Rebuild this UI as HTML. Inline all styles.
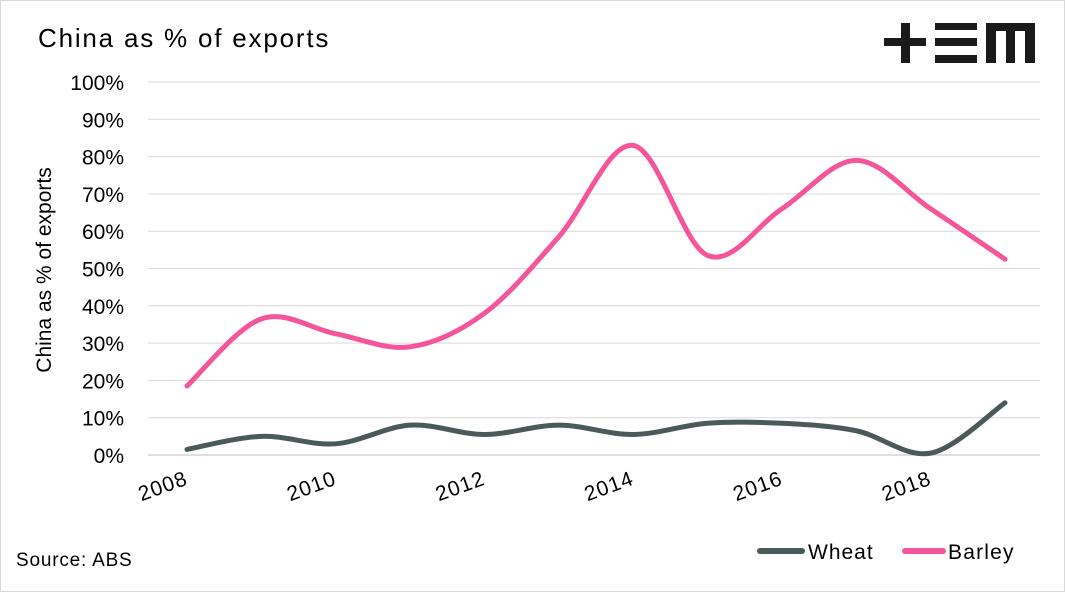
<!DOCTYPE html>
<html><head><meta charset="utf-8"><style>
html,body{margin:0;padding:0;background:#fff;}
body{width:1065px;height:592px;overflow:hidden;font-family:"Liberation Sans",sans-serif;}
</style></head><body>
<svg width="1065" height="592" xmlns="http://www.w3.org/2000/svg">
<rect x="0.5" y="0.5" width="1064" height="591" fill="#fff" stroke="#d9d9d9"/>
<text x="38" y="47" font-size="26" letter-spacing="1.8" fill="#000">China as % of exports</text>
<g fill="#1a1a1a">
<rect x="884" y="38" width="42" height="8"/><rect x="901" y="23" width="9" height="40"/>
<rect x="935" y="23" width="42" height="7"/><rect x="935" y="38" width="42" height="8"/><rect x="935" y="55" width="42" height="8"/>
<path d="M986 23H1035V63H1025V31H1015V63H1006V31H996V63H986Z"/>
</g>
<g id="grid"></g><g id="ylab"></g><g id="xlab"></g><g id="series"></g>
<text transform="translate(51,270) rotate(-90)" text-anchor="middle" font-size="21" fill="#000">China as % of exports</text>
<text x="16" y="566" font-size="19" letter-spacing="0.8" fill="#000">Source: ABS</text>
<g>
<line x1="760" y1="551" x2="802" y2="551" stroke="#4a5a59" stroke-width="6" stroke-linecap="round"/>
<text x="808" y="559" font-size="21" letter-spacing="1" fill="#000">Wheat</text>
<line x1="905" y1="551" x2="943" y2="551" stroke="#f5559b" stroke-width="6" stroke-linecap="round"/>
<text x="948" y="559" font-size="21" letter-spacing="1.2" fill="#000">Barley</text>
</g>
</svg>
<script>
const years=[2008,2009,2010,2011,2012,2013,2014,2015,2016,2017,2018,2019];
const wheat=[1.5,5,3,8,5.5,8,5.5,8.5,8.5,6.5,0.5,14];
const barley=[18.5,36.5,32.5,29,38,58.5,83,53.5,66,79,66,52.5];
const yTicks=[0,10,20,30,40,50,60,70,80,90,100];
const xTickLabels=[2008,2010,2012,2014,2016,2018];
const NS='http://www.w3.org/2000/svg';
const x=v=>187+(v-2008)*(1005-187)/11;
const y=v=>455-v*(455-82)/100;
function mk(t,a,p){const e=document.createElementNS(NS,t);for(const k in a)e.setAttribute(k,a[k]);document.getElementById(p).appendChild(e);return e;}
yTicks.forEach(t=>{
 const l=mk('line',{x1:148,x2:1040,y1:y(t),y2:y(t),stroke:t===0?'#bfbfbf':'#d9d9d9','stroke-width':1},'grid');
 
 
 const tx=mk('text',{x:124,y:y(t)+8,'text-anchor':'end','font-size':21},'ylab');tx.textContent=t+'%';
 
 
});
xTickLabels.forEach(t=>{
 const tx=mk('text',{transform:`translate(${x(t)+2},${484}) rotate(-20)`,'text-anchor':'end','font-size':21,'letter-spacing':1},'xlab');tx.textContent=t;
 
 
});
function path(vals){
 const p=vals.map((v,i)=>[x(years[i]),y(v)]);
 let d='M'+p[0][0]+' '+p[0][1];
 for(let i=0;i<p.length-1;i++){
  const p0=p[i-1]||p[i],p1=p[i],p2=p[i+1],p3=p[i+2]||p[i+1];
  d+=` C${p1[0]+(p2[0]-p0[0])/6} ${p1[1]+(p2[1]-p0[1])/6} ${p2[0]-(p3[0]-p1[0])/6} ${p2[1]-(p3[1]-p1[1])/6} ${p2[0]} ${p2[1]}`;
 }
 return d;
}
const w=mk('path',{d:path(wheat),fill:'none',stroke:'#4a5a59','stroke-width':5,'stroke-linecap':'round'},'series');


const b=mk('path',{d:path(barley),fill:'none',stroke:'#f5559b','stroke-width':5,'stroke-linecap':'round'},'series');


</script>
</body></html>
